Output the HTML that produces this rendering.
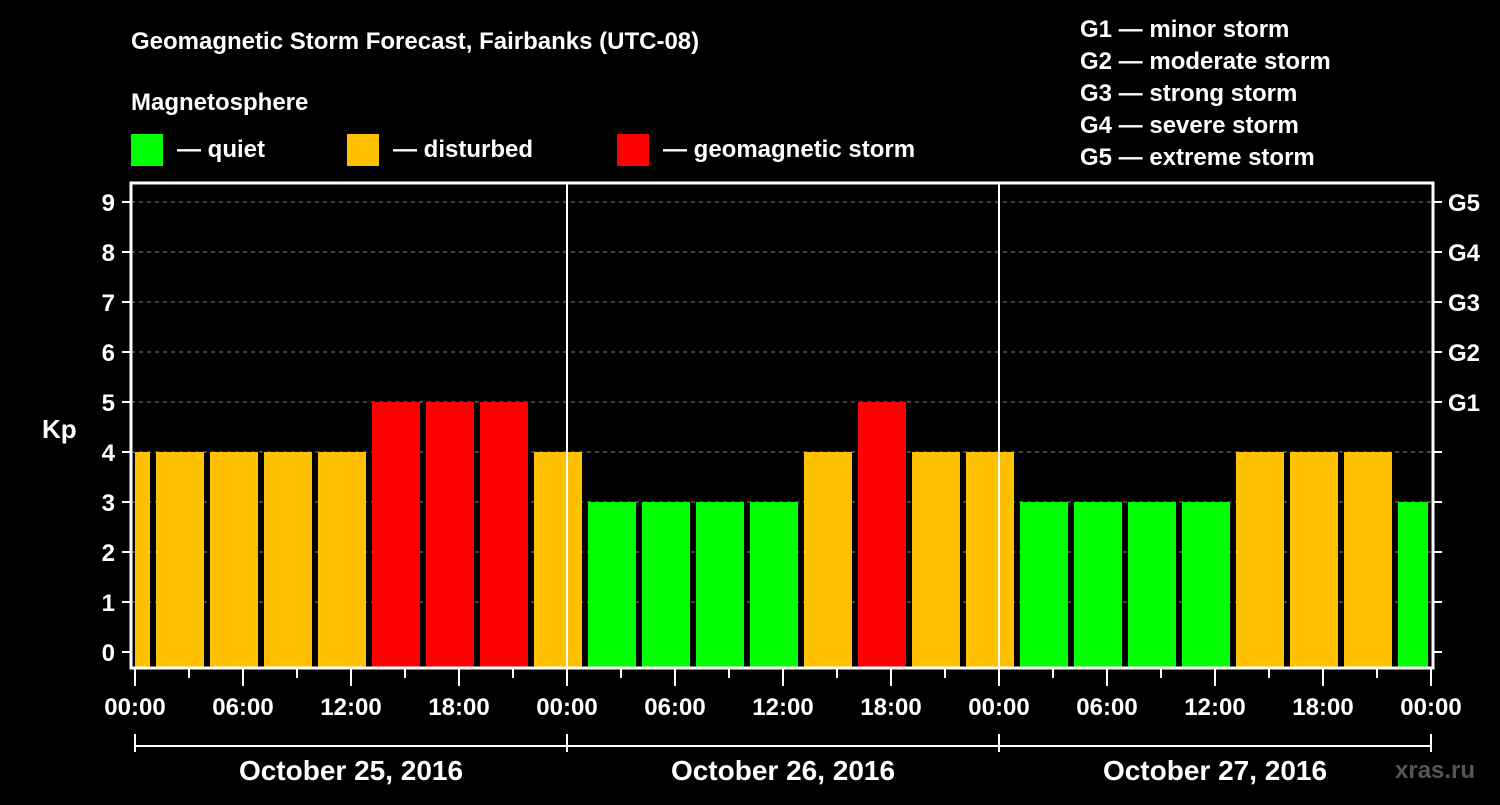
<!DOCTYPE html>
<html><head><meta charset="utf-8"><style>
body{margin:0;background:#000;}
svg text{font-family:"Liberation Sans",Arial,sans-serif;font-weight:bold;fill:#fff;}
</style></head><body>
<svg id="chart" width="1500" height="800" viewBox="0 0 1500 800" xmlns="http://www.w3.org/2000/svg">
<rect width="1500" height="800" fill="#000"/>
<text x="131" y="49" font-size="24">Geomagnetic Storm Forecast, Fairbanks (UTC-08)</text>
<text x="131" y="110" font-size="24">Magnetosphere</text>
<rect x="131" y="134" width="32" height="32" fill="#00ff00"/>
<text x="177" y="157" font-size="24">— quiet</text>
<rect x="347" y="134" width="32" height="32" fill="#ffc000"/>
<text x="393" y="157" font-size="24">— disturbed</text>
<rect x="617" y="134" width="32" height="32" fill="#ff0000"/>
<text x="663" y="157" font-size="24">— geomagnetic storm</text>
<g font-size="24">
<text x="1080" y="37">G1 — minor storm</text>
<text x="1080" y="69">G2 — moderate storm</text>
<text x="1080" y="101">G3 — strong storm</text>
<text x="1080" y="133">G4 — severe storm</text>
<text x="1080" y="165">G5 — extreme storm</text>
</g>
<text x="42" y="438" font-size="26">Kp</text>
<text x="1395" y="778" font-size="24" style="fill:#555">xras.ru</text>
<g id="grid"></g><g id="bars"></g><g id="axes"></g>
</svg>
<script>
const startHours=[-2,1,4,7,10,13,16,19,22,25,28,31,34,37,40,43,46,49,52,55,58,61,64,67,70];
const kpValues=[4,4,4,4,4,5,5,5,4,3,3,3,3,4,5,4,4,3,3,3,3,4,4,4,3];
const kpTicks=[0,1,2,3,4,5,6,7,8,9];
const gLabels=[[5,'G1'],[6,'G2'],[7,'G3'],[8,'G4'],[9,'G5']];
const hourLabels=['00:00','06:00','12:00','18:00'];
const dayLabels=['October 25, 2016','October 26, 2016','October 27, 2016'];
const NS='http://www.w3.org/2000/svg';
const X0=135,PXH=18,HMAX=72,Y0=652,PXK=50,TOP=183,BOT=668,LEFT=131,RIGHT=1433;
const xs=h=>X0+h*PXH, ys=k=>Y0-k*PXK;
function mk(parent,tag,attrs){const e=document.createElementNS(NS,tag);for(const k in attrs)e.setAttribute(k,attrs[k]);document.getElementById(parent).appendChild(e);return e;}
function color(k){return k>=5?'#ff0000':k>=4?'#ffc000':'#00ff00';}
kpTicks.forEach(k=>{
  if(k>0){const g=mk('grid','line',{x1:LEFT,x2:RIGHT,y1:ys(k),y2:ys(k),stroke:'#888','stroke-width':1,'stroke-dasharray':'4,4'});
  
  }
  const t=mk('axes','line',{x1:122,x2:LEFT,y1:ys(k),y2:ys(k),stroke:'#fff','stroke-width':2});
  
  
  const r=mk('axes','line',{x1:RIGHT,x2:1442,y1:ys(k),y2:ys(k),stroke:'#fff','stroke-width':2});
  
  
  const l=mk('axes','text',{x:115,y:ys(k)+9,'font-size':24,'text-anchor':'end'});l.textContent=k;
  
  
});
gLabels.forEach(([k,g])=>{const l=mk('axes','text',{x:1448,y:ys(k)+9,'font-size':24});l.textContent=g;
  
  });
startHours.forEach((h,i)=>{
  let a=Math.max(0,h),b=Math.min(HMAX,h+3);
  let x1=Math.max(xs(h)+3,xs(0)),x2=Math.min(xs(h+3)-3,xs(HMAX)-3);
  const r=mk('bars','rect',{x:x1,y:ys(kpValues[i]),width:x2-x1,height:BOT-ys(kpValues[i]),fill:color(kpValues[i])});
  
  
});
[24,48].forEach(h=>{const d=mk('axes','line',{x1:xs(h),x2:xs(h),y1:TOP,y2:BOT,stroke:'#fff','stroke-width':2});
  
  });
const f=mk('axes','rect',{x:LEFT,y:TOP,width:RIGHT-LEFT,height:BOT-TOP,fill:'none',stroke:'#fff','stroke-width':3});


for(let h=0;h<=HMAX;h+=3){
  const major=h%6===0;
  const t=mk('axes','line',{x1:xs(h),x2:xs(h),y1:BOT,y2:major?686:678,stroke:'#fff','stroke-width':2});
  
  
  if(major){const l=mk('axes','text',{x:xs(h),y:715,'font-size':24,'text-anchor':'middle'});l.textContent=hourLabels[(h%24)/6];
  
  }
}
const bl=mk('axes','line',{x1:xs(0),x2:xs(HMAX),y1:746,y2:746,stroke:'#fff','stroke-width':2});


[0,24,48,72].forEach(h=>{const t=mk('axes','line',{x1:xs(h),x2:xs(h),y1:734,y2:752,stroke:'#fff','stroke-width':2});
  
  });
dayLabels.forEach((d,i)=>{const l=mk('axes','text',{x:xs(i*24+12),y:780,'font-size':28,'text-anchor':'middle'});l.textContent=d;
  
  });
</script>
</body></html>
